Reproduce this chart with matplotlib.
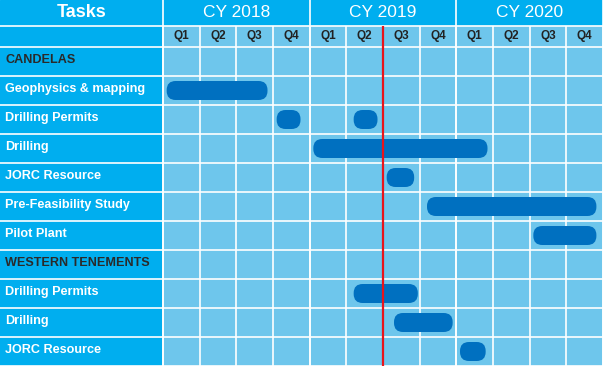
import matplotlib.pyplot as plt
from matplotlib.patches import Rectangle, FancyBboxPatch

plt.rcParams['font.family'] = ['Liberation Sans', 'DejaVu Sans']

# data
years = ["CY 2018", "CY 2019", "CY 2020"]
quarters = ["Q1", "Q2", "Q3", "Q4"]
tasks = ["CANDELAS", "Geophysics & mapping", "Drilling Permits", "Drilling",
         "JORC Resource", "Pre-Feasibility Study", "Pilot Plant",
         "WESTERN TENEMENTS", "Drilling Permits", "Drilling", "JORC Resource"]
is_section = [True, False, False, False, False, False, False,
              True, False, False, False]
# bars in quarters since start of Q1 2018
bar_rows = [1, 2, 2, 3, 4, 5, 6, 8, 9, 10]
bar_start = [0.1, 3.1, 5.2, 4.1, 6.1, 7.2, 10.1, 5.2, 6.3, 8.1]
bar_end = [2.85, 3.75, 5.85, 8.85, 6.85, 11.82, 11.82, 6.95, 7.9, 8.8]
today = 6.0  # end of Q2 2019

CYAN = '#00AEEF'
CELL = '#6EC6EC'
BAR = '#0070C0'

# layout (pixels)
W, H = 603, 366
QW = (W - 163) / 12.0
RH = 29.0
label_w = 163 / QW
q_h = 21 / RH
y_h = 26 / RH
n_q = len(years) * 4
n_rows = len(tasks)

fig = plt.figure(figsize=(W / 100, H / 100), dpi=100)
ax = fig.add_axes([0, 0, 1, 1])
ax.set_xlim(-label_w, n_q)
ax.set_ylim(n_rows, -(q_h + y_h))
ax.axis('off')

# backgrounds
ax.add_patch(Rectangle((-label_w, -(q_h + y_h)), label_w + n_q, n_rows + q_h + y_h,
                       color=CYAN, zorder=0))
ax.add_patch(Rectangle((0, -q_h), n_q, n_rows + q_h, color=CELL, zorder=0))

# grid lines
lw = 1.2
ax.vlines(range(n_q + 1), -q_h, n_rows, color='white', lw=lw, zorder=1)
ax.vlines(range(0, n_q + 1, 4), -(q_h + y_h), n_rows, color='white', lw=lw, zorder=1)
ax.hlines(range(n_rows + 1), -label_w, n_q, color='white', lw=lw, zorder=1)
ax.hlines(-q_h, -label_w, n_q, color='white', lw=lw, zorder=1)

# header text
ax.text(-label_w / 2, -q_h - y_h / 2, "Tasks", color='white', fontsize=13,
        fontweight='bold', ha='center', va='center')
for i, yr in enumerate(years):
    ax.text(i * 4 + 2, -q_h - y_h / 2, yr, color='white', fontsize=12.5,
            ha='center', va='center')
    for j, q in enumerate(quarters):
        ax.text(i * 4 + j + 0.5, -q_h / 2, q, color='#222222', fontsize=8.5,
                fontweight='bold', ha='center', va='center')

# task labels
for r, (t, sec) in enumerate(zip(tasks, is_section)):
    ax.text(-label_w + 5 / QW, r + 0.45, t, color='#2a2a2a' if sec else 'white',
            fontsize=9.1, fontweight='bold', ha='left', va='center')

# bars
bar_h = 19 / RH
rad = 9 / QW
for r, s, e in zip(bar_rows, bar_start, bar_end):
    ax.add_patch(FancyBboxPatch((s, r + 0.5 - bar_h / 2), e - s, bar_h,
                                boxstyle=f"round,pad=0,rounding_size={rad}",
                                mutation_aspect=QW / RH,
                                facecolor=BAR, edgecolor='none', zorder=2))

# today line
ax.vlines(today, -q_h, n_rows, color='#E8141B', lw=1.6, zorder=3)

fig.savefig('out.png', dpi=100)
